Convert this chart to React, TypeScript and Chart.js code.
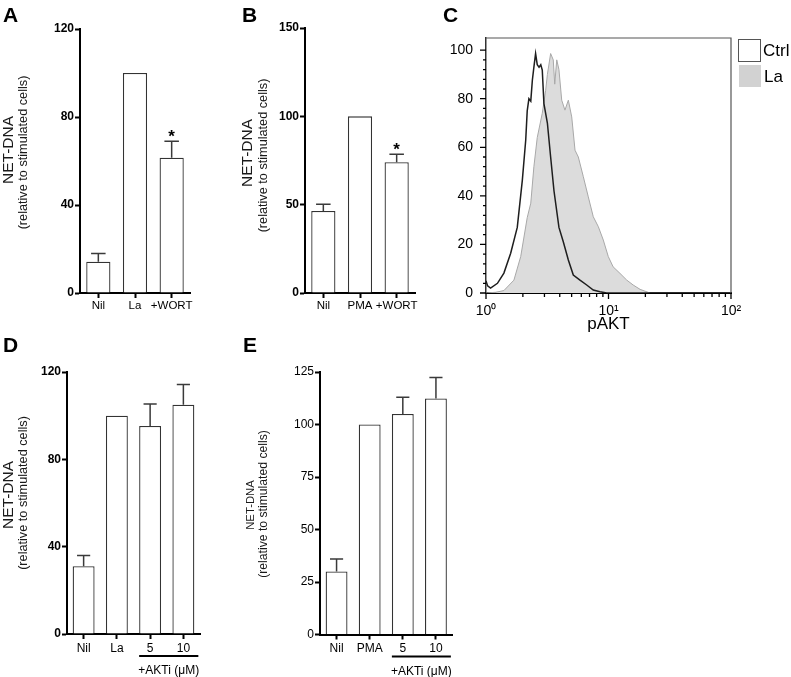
import React, { useEffect, useRef } from "react";
import { Chart, registerables } from "chart.js";

Chart.register(...registerables);

const FONT = '"Liberation Sans", Arial, Helvetica, sans-serif';
Chart.defaults.font.family = FONT;
Chart.defaults.color = "#000";

// ---------- Panel A ----------
const catsA = ["Nil", "La", "+WORT"];
const valsA = [14.2, 100, 61.5];
const errA = [3.7, 0, 7.5];
const sigA = [false, false, true];
const ticksA = [0, 40, 80, 120];

// ---------- Panel B ----------
const catsB = ["Nil", "PMA", "+WORT"];
const valsB = [46.4, 100, 74];
const errB = [3.8, 0, 4.5];
const sigB = [false, false, true];
const ticksB = [0, 50, 100, 150];

// ---------- Panel C (flow histogram) ----------
const ctrlX = [1.0, 1.03, 1.09, 1.24, 1.4, 1.59, 1.8, 1.98, 2.11, 2.17, 2.24, 2.32, 2.39, 2.46, 2.54, 2.62, 2.71, 2.8, 2.88, 2.97, 3.17, 3.37, 3.59, 3.94, 4.28, 4.7, 5.16, 5.85, 6.64, 7.51, 8.53, 9.67, 100];
const ctrlY = [5, 3, 2, 4, 8.2, 16.4, 27, 46.5, 63, 75, 80, 79, 87.6, 93, 98.6, 94, 93, 94, 91.8, 78, 70, 56, 42, 27, 21, 13.6, 7.4, 5.3, 3.3, 1.2, 0.5, 0, 0];
const laX = [1.0, 1.2, 1.4, 1.69, 1.92, 2.17, 2.32, 2.46, 2.62, 2.88, 3.07, 3.17, 3.37, 3.54, 3.64, 3.78, 3.94, 4.15, 4.41, 4.7, 5.01, 5.33, 5.67, 6.23, 6.84, 7.51, 8.26, 9.07, 9.96, 10.9, 12.4, 14.1, 15.9, 18.1, 21.8, 100];
const laY = [0, 0.3, 1, 5.3, 15, 31, 37, 52, 64, 74, 83.5, 90, 98.6, 96, 86, 96, 92, 79.4, 75.3, 79.4, 72.5, 58.8, 56, 47.9, 39.6, 31.4, 27.3, 21.8, 15, 10.8, 8.1, 5.3, 3.3, 1.5, 0, 0];
const histYTicks = [0, 20, 40, 60, 80, 100];
const histYMinor = [4, 8, 12, 16, 24, 28, 32, 36, 44, 48, 52, 56, 64, 68, 72, 76, 84, 88, 92, 96];
const histXTicks = [1, 10, 100];
const histXMinor = [2, 3, 4, 5, 6, 7, 8, 9, 20, 30, 40, 50, 60, 70, 80, 90];
const histXLabels: Record<number, string> = { 1: "10⁰", 10: "10¹", 100: "10²" };

// ---------- Panel D ----------
const catsD = ["Nil", "La", "5", "10"];
const valsD = [31, 100, 95.3, 105];
const errD = [5, 0, 10, 9.3];
const ticksD = [0, 40, 80, 120];

// ---------- Panel E ----------
const catsE = ["Nil", "PMA", "5", "10"];
const valsE = [30, 100, 105, 112.4];
const errE = [6, 0, 8, 10];
const ticksE = [0, 25, 50, 75, 100, 125];

// ---------- plugins ----------
const annotate = {
  id: "annotate",
  afterDraw(chart: any, _a: any, o: any) {
    const ctx = chart.ctx;
    ctx.save();
    ctx.fillStyle = "#000";
    if (o.letter) {
      ctx.font = `bold 21px ${FONT}`;
      ctx.textAlign = "left";
      ctx.textBaseline = "alphabetic";
      ctx.fillText(o.letter.text, o.letter.x, o.letter.y);
    }
    (o.titles || []).forEach((t: any) => {
      ctx.save();
      ctx.translate(t.x, t.y);
      ctx.rotate(-Math.PI / 2);
      ctx.font = `${t.size}px ${FONT}`;
      ctx.textAlign = "center";
      ctx.textBaseline = "middle";
      ctx.fillStyle = "#1a1a1a";
      ctx.fillText(t.text, 0, 0);
      ctx.restore();
    });
    ctx.restore();
  },
};

const barExtras = {
  id: "barExtras",
  afterDatasetsDraw(chart: any, _a: any, o: any) {
    const ctx = chart.ctx;
    const meta = chart.getDatasetMeta(0);
    const ys = chart.scales.y;
    const vals = chart.data.datasets[0].data;
    ctx.save();
    ctx.strokeStyle = "#3a3a3a";
    ctx.lineWidth = 1.5;
    (o.errors || []).forEach((e: number, i: number) => {
      if (!e) return;
      const bar = meta.data[i];
      const top = ys.getPixelForValue(vals[i] + e);
      const cap = bar.width * 0.6;
      ctx.beginPath();
      ctx.moveTo(bar.x, bar.y);
      ctx.lineTo(bar.x, top);
      ctx.moveTo(bar.x - cap / 2, top);
      ctx.lineTo(bar.x + cap / 2, top);
      ctx.stroke();
      if (o.sig && o.sig[i]) {
        ctx.fillStyle = "#000";
        ctx.font = `bold 17px ${FONT}`;
        ctx.textAlign = "center";
        ctx.textBaseline = "alphabetic";
        ctx.fillText("*", bar.x, top + 1);
      }
    });
    if (o.bracket) {
      const a = meta.data[2];
      const b = meta.data[3];
      const x0 = a.x - a.width / 2;
      const x1 = b.x + b.width / 2 + 4;
      const y = chart.chartArea.bottom + 22;
      ctx.strokeStyle = "#000";
      ctx.lineWidth = 2;
      ctx.beginPath();
      ctx.moveTo(x0, y);
      ctx.lineTo(x1, y);
      ctx.stroke();
      ctx.fillStyle = "#000";
      ctx.font = `12px ${FONT}`;
      ctx.textAlign = "center";
      ctx.textBaseline = "middle";
      ctx.fillText(o.bracket, (x0 + x1) / 2, chart.chartArea.bottom + 37);
    }
    ctx.restore();
  },
};

const histExtras = {
  id: "histExtras",
  afterDraw(chart: any, _a: any, o: any) {
    const ctx = chart.ctx;
    const { left, right, top, bottom } = chart.chartArea;
    const xs = chart.scales.x;
    const ys = chart.scales.y;
    ctx.save();
    // frame
    ctx.strokeStyle = "#555";
    ctx.lineWidth = 1.2;
    ctx.beginPath();
    ctx.moveTo(left, top);
    ctx.lineTo(right, top);
    ctx.lineTo(right, bottom);
    ctx.stroke();
    // ticks
    ctx.strokeStyle = "#000";
    ctx.lineWidth = 1.3;
    ctx.beginPath();
    histYTicks.forEach((v) => {
      const y = ys.getPixelForValue(v);
      ctx.moveTo(left - 6, y);
      ctx.lineTo(left, y);
    });
    histYMinor.forEach((v) => {
      const y = ys.getPixelForValue(v);
      ctx.moveTo(left - 3, y);
      ctx.lineTo(left, y);
    });
    histXTicks.forEach((v) => {
      const x = xs.getPixelForValue(v);
      ctx.moveTo(x, bottom);
      ctx.lineTo(x, bottom + 6);
    });
    histXMinor.forEach((v) => {
      const x = xs.getPixelForValue(v);
      ctx.moveTo(x, bottom);
      ctx.lineTo(x, bottom + 4);
    });
    ctx.stroke();
    // legend
    (o.legend || []).forEach((it: any) => {
      ctx.fillStyle = it.fill;
      ctx.fillRect(it.x, it.y, 22, 22);
      if (it.stroke) {
        ctx.strokeStyle = it.stroke;
        ctx.lineWidth = 1;
        ctx.strokeRect(it.x + 0.5, it.y + 0.5, 22, 22);
      }
      ctx.fillStyle = "#000";
      ctx.font = `17px ${FONT}`;
      ctx.textAlign = "left";
      ctx.textBaseline = "middle";
      ctx.fillText(it.text, it.x + 25, it.y + 12);
    });
    ctx.restore();
  },
};

// ---------- config builders ----------
function barConfig(p: any) {
  return {
    type: "bar",
    data: {
      labels: p.cats,
      datasets: [
        {
          data: p.vals,
          backgroundColor: "#ffffff",
          borderColor: "#333333",
          borderWidth: 1.3,
          barPercentage: 0.66,
          categoryPercentage: 1,
        },
      ],
    },
    options: {
      responsive: false,
      animation: false,
      devicePixelRatio: 1,
      layout: { padding: { left: 0, top: p.padTop, right: p.padRight, bottom: 0 } },
      plugins: {
        legend: { display: false },
        tooltip: { enabled: false },
        annotate: { letter: p.letter, titles: p.titles },
        barExtras: { errors: p.errs, sig: p.sig, bracket: p.bracket },
      },
      scales: {
        x: {
          grid: { display: true, drawOnChartArea: false, offset: false, tickLength: 5, tickWidth: 2, tickColor: "#000" },
          border: { display: true, color: "#000", width: 2 },
          ticks: { font: { size: p.xFont }, color: "#000", padding: p.xPad, maxRotation: 0, minRotation: 0, autoSkip: false },
          afterFit: (s: any) => {
            s.height = p.xAxisH;
          },
        },
        y: {
          min: 0,
          max: p.max,
          afterBuildTicks: (s: any) => {
            s.ticks = p.ticks.map((v: number) => ({ value: v }));
          },
          grid: { display: true, drawOnChartArea: false, tickLength: 5, tickWidth: 2, tickColor: "#000" },
          border: { display: true, color: "#000", width: 2 },
          ticks: { font: { size: 12, weight: p.yBold ? "bold" : "normal" }, color: "#000", padding: 1 },
          afterFit: (s: any) => {
            s.width = p.yAxisW;
          },
        },
      },
    },
    plugins: [annotate, barExtras],
  };
}

const configA = barConfig({
  cats: catsA, vals: valsA, errs: errA, sig: sigA, ticks: ticksA, max: 120,
  padTop: 29, padRight: 50, xAxisH: 33, yAxisW: 80, xFont: 11.5, xPad: 1, yBold: true,
  letter: { text: "A", x: 3, y: 22 },
  titles: [
    { text: "NET-DNA", size: 15.5, x: 9, y: 150 },
    { text: "(relative to stimulated cells)", size: 12.7, x: 23.3, y: 152.5 },
  ],
});

const configB = barConfig({
  cats: catsB, vals: valsB, errs: errB, sig: sigB, ticks: ticksB, max: 150,
  padTop: 28, padRight: 25, xAxisH: 33, yAxisW: 65, xFont: 11.5, xPad: 1, yBold: true,
  letter: { text: "B", x: 2, y: 22 },
  titles: [
    { text: "NET-DNA", size: 15.5, x: 8, y: 153 },
    { text: "(relative to stimulated cells)", size: 12.7, x: 23, y: 155.5 },
  ],
});

const configD = barConfig({
  cats: catsD, vals: valsD, errs: errD, sig: null, ticks: ticksD, max: 120,
  padTop: 42, padRight: 40, xAxisH: 43, yAxisW: 67, xFont: 12, xPad: 2, yBold: true,
  bracket: "+AKTi (μM)",
  letter: { text: "D", x: 3, y: 22 },
  titles: [
    { text: "NET-DNA", size: 15.5, x: 9, y: 165 },
    { text: "(relative to stimulated cells)", size: 12.7, x: 23.5, y: 163 },
  ],
});

const configE = barConfig({
  cats: catsE, vals: valsE, errs: errE, sig: null, ticks: ticksE, max: 125,
  padTop: 42, padRight: 27.5, xAxisH: 42.5, yAxisW: 80, xFont: 12, xPad: 2, yBold: false,
  bracket: "+AKTi (μM)",
  letter: { text: "E", x: 3, y: 22 },
  titles: [
    { text: "NET-DNA", size: 11.3, x: 10.5, y: 175 },
    { text: "(relative to stimulated cells)", size: 12.2, x: 23.5, y: 174 },
  ],
});

const configC = {
  type: "scatter",
  data: {
    datasets: [
      {
        label: "Ctrl",
        data: ctrlX.map((x, i) => ({ x, y: ctrlY[i] })),
        showLine: true,
        fill: false,
        borderColor: "#1e1e1e",
        borderWidth: 1.5,
        pointRadius: 0,
        tension: 0,
      },
      {
        label: "La",
        data: laX.map((x, i) => ({ x, y: laY[i] })),
        showLine: true,
        fill: "origin",
        backgroundColor: "#dcdcdc",
        borderColor: "#a8a8a8",
        borderWidth: 1,
        pointRadius: 0,
        tension: 0,
      },
    ],
  },
  options: {
    responsive: false,
    animation: false,
    devicePixelRatio: 1,
    layout: { padding: { left: 0, top: 38, right: 60, bottom: 0 } },
    plugins: {
      legend: { display: false },
      tooltip: { enabled: false },
      annotate: { letter: { text: "C", x: 3, y: 22 }, titles: [] },
      histExtras: {
        legend: [
          { text: "Ctrl", x: 298, y: 39, fill: "#ffffff", stroke: "#555555" },
          { text: "La", x: 299, y: 65, fill: "#d2d2d2", stroke: null },
        ],
      },
    },
    scales: {
      x: {
        type: "logarithmic",
        min: 1,
        max: 100,
        afterBuildTicks: (s: any) => {
          s.ticks = histXTicks.map((v) => ({ value: v }));
        },
        grid: { display: false, drawTicks: false },
        border: { display: true, color: "#000", width: 2 },
        ticks: {
          font: { size: 14 },
          color: "#000",
          padding: 10,
          maxRotation: 0,
          minRotation: 0,
          autoSkip: false,
          callback: (v: any) => histXLabels[Number(v)] || "",
        },
        title: { display: true, text: "pAKT", font: { size: 17 }, color: "#000", padding: { top: 0, bottom: 5 } },
        afterFit: (s: any) => {
          s.height = 47;
        },
      },
      y: {
        min: 0,
        max: 105,
        afterBuildTicks: (s: any) => {
          s.ticks = histYTicks.map((v) => ({ value: v }));
        },
        grid: { display: false, drawTicks: false },
        border: { display: true, color: "#333", width: 1.5 },
        ticks: { font: { size: 14 }, color: "#000", padding: 13 },
        afterFit: (s: any) => {
          s.width = 46;
        },
      },
    },
  },
  plugins: [annotate, histExtras],
};

function Panel({ config, left, top, width, height }: any) {
  const ref = useRef<HTMLCanvasElement>(null);
  useEffect(() => {
    const chart = new Chart(ref.current as HTMLCanvasElement, config);
    return () => chart.destroy();
  }, [config]);
  return (
    <canvas
      ref={ref}
      width={width}
      height={height}
      style={{ position: "absolute", left, top, width, height }}
    />
  );
}

export default function App() {
  return (
    <div style={{ position: "absolute", left: 0, top: 0, width: 791, height: 677, background: "#fff", overflow: "hidden" }}>
      <Panel config={configA} left={0} top={0} width={240} height={326} />
      <Panel config={configB} left={240} top={0} width={200} height={326} />
      <Panel config={configC} left={440} top={0} width={351} height={340} />
      <Panel config={configD} left={0} top={330} width={240} height={347} />
      <Panel config={configE} left={240} top={330} width={240} height={347} />
    </div>
  );
}
